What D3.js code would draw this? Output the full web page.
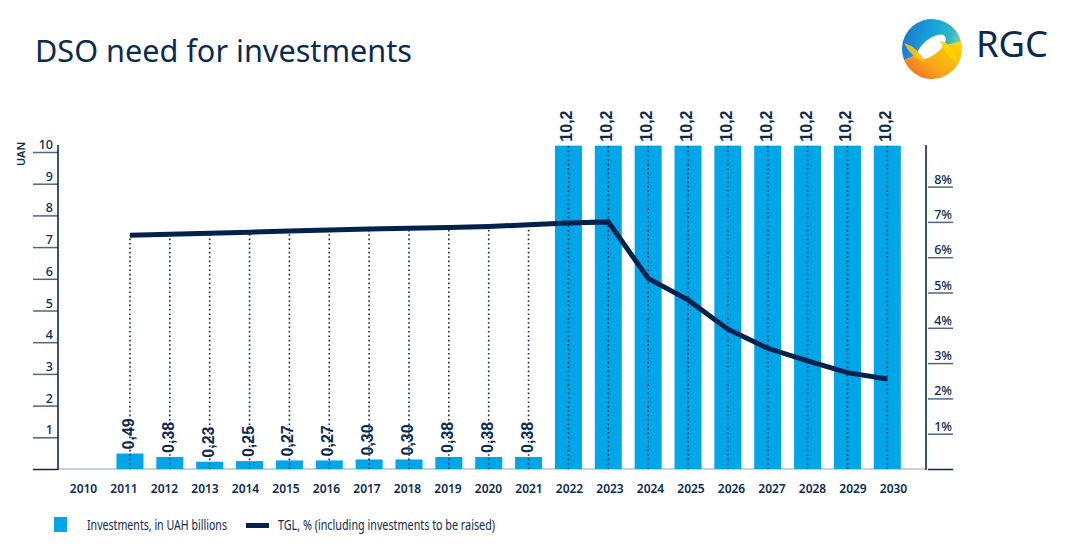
<!DOCTYPE html>
<html><head><meta charset="utf-8">
<script src="https://cdn.jsdelivr.net/npm/d3@7"></script>
<style>
html,body{margin:0;padding:0;background:#fff;}
svg{display:block;font-family:"Noto Sans","Open Sans",sans-serif;}
</style></head>
<body>
<svg id="chart" width="1076" height="558"></svg>
<script>
// ---- data ----
const years = ["2010","2011","2012","2013","2014","2015","2016","2017","2018","2019","2020",
               "2021","2022","2023","2024","2025","2026","2027","2028","2029","2030"];
const investments = [null,0.49,0.38,0.23,0.25,0.27,0.27,0.30,0.30,0.38,0.38,0.38,
                     10.2,10.2,10.2,10.2,10.2,10.2,10.2,10.2,10.2];
const investLabels = [null,"0,49","0,38","0,23","0,25","0,27","0,27","0,30","0,30","0,38","0,38","0,38",
                      "10,2","10,2","10,2","10,2","10,2","10,2","10,2","10,2","10,2"];
const tgl = [null,6.62,6.65,6.68,6.71,6.74,6.77,6.80,6.82,6.84,6.87,6.92,6.97,7.00,
             5.40,4.79,3.96,3.42,3.06,2.73,2.55];
const leftTicks = [0,1,2,3,4,5,6,7,8,9,10];
const rightTicks = [0,1,2,3,4,5,6,7,8];
const title = "DSO need for investments";
const leftAxisTitle = "UAN";
const legendBar = "Investments, in UAH billions";
const legendLine = "TGL, % (including investments to be raised)";

// ---- styles ----
const NAVY = "#0b2a52", LINE = "#03214d", BLUE = "#00a6e7", GRID = "#c9d1dc";

const svg = d3.select("#chart");

// scales
const xBar = d3.scalePoint().domain(years).range([90.1, 887.3]);
const xLab = d3.scalePoint().domain(years).range([83, 893]);
const yL = d3.scaleLinear().domain([0, 10]).range([469, 152]);
const yR = d3.scaleLinear().domain([0, 8]).range([469, 186.6]);
const barW = 27;
const axL = 58, axR = 926;

function fit(sel, w) {
  const n = sel.node();
  const fs = parseFloat(sel.attr("font-size"));
  const len = n.getComputedTextLength();
  sel.attr("font-size", (fs * w / len).toFixed(2));
}

// title
svg.append("text").attr("x", 35).attr("y", 61.5).attr("font-size", 28)
  .attr("fill", NAVY).text(title).call(fit, 377);

// logo
const defs = svg.append("defs");
const g1 = defs.append("linearGradient").attr("id", "lgTop").attr("x1", "0").attr("y1", "0.3").attr("x2", "1").attr("y2", "0.5");
g1.append("stop").attr("offset", "0").attr("stop-color", "#1b74c9");
g1.append("stop").attr("offset", "0.5").attr("stop-color", "#14a6dc");
g1.append("stop").attr("offset", "0.8").attr("stop-color", "#2fb6c4");
g1.append("stop").attr("offset", "1").attr("stop-color", "#86cc9c");
const g2 = defs.append("linearGradient").attr("id", "lgBot").attr("x1", "0").attr("y1", "1").attr("x2", "1").attr("y2", "0.2");
g2.append("stop").attr("offset", "0").attr("stop-color", "#f15a24");
g2.append("stop").attr("offset", "0.45").attr("stop-color", "#f9a21b");
g2.append("stop").attr("offset", "1").attr("stop-color", "#ffd200");
const logo = svg.append("g").attr("transform", "translate(932,49)");
const arc = d3.arc();
logo.append("path").attr("d", arc({innerRadius: 0, outerRadius: 30, startAngle: -Math.PI * 0.62, endAngle: Math.PI * 0.42}))
  .attr("fill", "url(#lgTop)");
logo.append("path").attr("d", arc({innerRadius: 0, outerRadius: 30, startAngle: Math.PI * 0.42, endAngle: Math.PI * 1.38}))
  .attr("fill", "url(#lgBot)");
logo.append("ellipse").attr("cx", 1).attr("cy", -2).attr("rx", 17).attr("ry", 8)
  .attr("transform", "rotate(-38)").attr("fill", "#fff");
logo.append("path").attr("d", "M-28,-6 Q-14,-2 -6,14 Q-20,10 -28,-6Z").attr("fill", "#ffc20e").attr("opacity", 0.9);
logo.append("path").attr("d", "M8,-8 Q22,-6 26,14 Q14,8 8,-8Z").attr("fill", "#ffd200").attr("opacity", 0.9);
svg.append("text").attr("x", 976).attr("y", 57).attr("font-size", 33).attr("fill", NAVY)
  .attr("font-family", "'Noto Sans'").text("RGC").call(fit, 72);

// baseline
svg.append("line").attr("x1", axL).attr("x2", axR).attr("y1", yL(0)).attr("y2", yL(0))
  .attr("stroke", GRID).attr("stroke-width", 2);

// bars
const data = years.map((y, i) => ({year: y, v: investments[i], lab: investLabels[i], t: tgl[i]}));
svg.append("g").selectAll("rect").data(data.filter(d => d.v != null)).join("rect")
  .attr("x", d => xBar(d.year) - barW / 2).attr("width", barW)
  .attr("y", d => yL(d.v)).attr("height", d => yL(0) - yL(d.v))
  .attr("fill", BLUE);

// dotted drop lines
svg.append("g").selectAll("line").data(data.filter(d => d.v != null)).join("line")
  .attr("x1", d => xBar(d.year)).attr("x2", d => xBar(d.year))
  .attr("y1", yL(0))
  .attr("y2", d => Math.min(yR(d.t), yL(d.v)))
  .attr("stroke", NAVY).attr("stroke-width", 1.6).attr("stroke-dasharray", "1.6,2.8");

// bar labels
svg.append("g").selectAll("text").data(data.filter(d => d.v != null)).join("text")
  .attr("transform", d => `translate(${xBar(d.year) + 4},${yL(d.v) - 4}) rotate(-90)`)
  .attr("font-family", "'Liberation Sans',Arial,sans-serif").attr("font-weight", "bold")
  .attr("font-size", 16).attr("fill", NAVY).text(d => d.lab);

// TGL line
const line = d3.line().x(d => xBar(d.year)).y(d => yR(d.t));
svg.append("path").datum(data.filter(d => d.t != null)).attr("d", line)
  .attr("fill", "none").attr("stroke", LINE).attr("stroke-width", 5).attr("stroke-linejoin", "miter");

// left axis
const la = svg.append("g").attr("transform", `translate(${axL},0)`)
  .call(d3.axisLeft(yL).tickValues(leftTicks).tickSize(25).tickSizeOuter(0).tickFormat(d => d === 0 ? "" : d));
la.select(".domain").remove();
la.selectAll(".tick line").attr("stroke", d => d === 0 ? NAVY : "#51657f").attr("stroke-width", 1.5);
la.selectAll(".tick text").attr("x", -5).attr("dy", 0).attr("y", -3.5).attr("text-anchor", "end")
  .attr("font-size", 12.5).attr("font-family", "'Noto Sans'").attr("font-weight", 500).attr("fill", NAVY);
svg.append("line").attr("x1", axL).attr("x2", axL).attr("y1", yL(0) + 1).attr("y2", yL(10) - 7)
  .attr("stroke", NAVY).attr("stroke-width", 1.6);
svg.append("text").attr("transform", `translate(25,${yL(10) + 2}) rotate(-90)`).attr("text-anchor", "middle")
  .attr("font-size", 11).attr("font-weight", 600).attr("fill", NAVY).text(leftAxisTitle);

// right axis
const ra = svg.append("g").attr("transform", `translate(${axR},0)`)
  .call(d3.axisRight(yR).tickValues(rightTicks).tickSize(27).tickSizeOuter(0).tickFormat(d => d === 0 ? "" : d + "%"));
ra.select(".domain").remove();
ra.selectAll(".tick line").attr("x1", 2).attr("stroke", d => d === 0 ? NAVY : "#51657f").attr("stroke-width", 1.5);
ra.selectAll(".tick text").attr("x", 26).attr("dy", 0).attr("y", -3.5).attr("text-anchor", "end")
  .attr("font-size", 12.5).attr("font-family", "'Noto Sans'").attr("font-weight", 500).attr("fill", NAVY);
svg.append("line").attr("x1", axR).attr("x2", axR).attr("y1", yL(0) + 1).attr("y2", yL(10) - 7)
  .attr("stroke", NAVY).attr("stroke-width", 1.6);

// x labels
const xa = svg.append("g").attr("transform", `translate(0,${yL(0)})`)
  .call(d3.axisBottom(xLab).tickSize(0).tickPadding(0));
xa.select(".domain").remove();
xa.selectAll(".tick text").attr("y", 23.5).attr("dy", 0).attr("font-size", 12)
  .attr("font-family", "'Noto Sans'").attr("font-weight", 600).attr("fill", NAVY);

// legend
svg.append("rect").attr("x", 54).attr("y", 517).attr("width", 13).attr("height", 15).attr("fill", BLUE);
svg.append("text").attr("x", 87).attr("y", 529.5).attr("font-size", 14).attr("fill", NAVY)
  .attr("textLength", 140).attr("lengthAdjust", "spacingAndGlyphs").text(legendBar);
svg.append("line").attr("x1", 246).attr("x2", 269).attr("y1", 525.5).attr("y2", 525.5)
  .attr("stroke", LINE).attr("stroke-width", 5);
svg.append("text").attr("x", 278).attr("y", 529.5).attr("font-size", 14).attr("fill", NAVY)
  .attr("textLength", 217).attr("lengthAdjust", "spacingAndGlyphs").text(legendLine);
</script>
</body></html>
